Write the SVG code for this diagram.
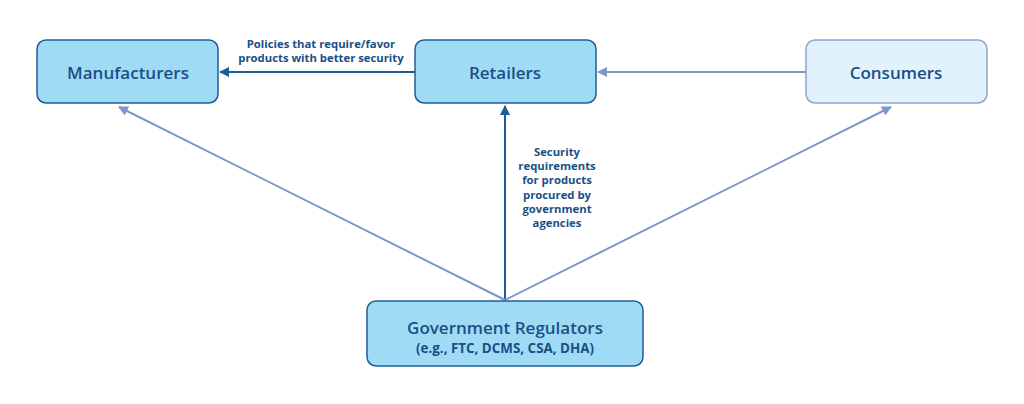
<svg xmlns="http://www.w3.org/2000/svg" width="1024" height="404" viewBox="0 0 1024 404">
<style>
.box{fill:#a0dbf6;stroke:#1f5c96;stroke-width:1.5}
.boxl{fill:#e1f2fc;stroke:#8fa5cc;stroke-width:1.5}
.t{font-family:"Open Sans","Noto Sans",sans-serif;font-weight:600;fill:#1a4f86;text-anchor:middle}
.big{font-size:17px}
.sm{font-size:11.3px;font-weight:700}
.dark{stroke:#1f5c96;stroke-width:2;fill:none}
.light{stroke:#7f96c8;stroke-width:2;fill:none}
</style>
<defs>
<marker id="ad" viewBox="0 0 10 10" refX="9" refY="5" markerWidth="5" markerHeight="5" orient="auto" markerUnits="strokeWidth"><path d="M0,0L10,5L0,10z" fill="#1f5c96"/></marker>
<marker id="al" viewBox="0 0 10 10" refX="9" refY="5" markerWidth="5" markerHeight="5" orient="auto" markerUnits="strokeWidth"><path d="M0,0L10,5L0,10z" fill="#7f96c8"/></marker>
</defs>
<rect width="1024" height="404" fill="#fff"/>
<g id="connectors">
<line class="dark" x1="415" y1="72" x2="220" y2="72" marker-end="url(#ad)"/>
<line class="light" x1="806" y1="72" x2="598" y2="72" marker-end="url(#al)"/>
<line class="dark" x1="505" y1="300" x2="505" y2="106" marker-end="url(#ad)"/>
<line class="light" x1="505" y1="300" x2="119" y2="107" marker-end="url(#al)"/>
<line class="light" x1="505" y1="300" x2="891" y2="107" marker-end="url(#al)"/>
<text class="t sm" x="321" y="48">Policies that require/favor</text>
<text class="t sm" x="321" y="62">products with better security</text>
<text class="t sm" x="557" y="156">Security</text>
<text class="t sm" x="557" y="170">requirements</text>
<text class="t sm" x="557" y="184">for products</text>
<text class="t sm" x="557" y="199">procured by</text>
<text class="t sm" x="557" y="213">government</text>
<text class="t sm" x="557" y="227">agencies</text>
</g>
<g id="manufacturers"><rect class="box" x="37" y="40" width="181" height="63" rx="9"/><text class="t big" x="128" y="79">Manufacturers</text></g>
<g id="retailers"><rect class="box" x="415" y="40" width="181" height="63" rx="9"/><text class="t big" x="505" y="79">Retailers</text></g>
<g id="consumers"><rect class="boxl" x="806" y="40" width="181" height="63" rx="9"/><text class="t big" x="896" y="79">Consumers</text></g>
<g id="regulators"><rect class="box" x="367" y="301" width="276" height="65" rx="9"/><text class="t big" x="505" y="334">Government Regulators</text><text class="t" style="font-size:13.4px;font-weight:700" x="505" y="353">(e.g., FTC, DCMS, CSA, DHA)</text></g>
</svg>
